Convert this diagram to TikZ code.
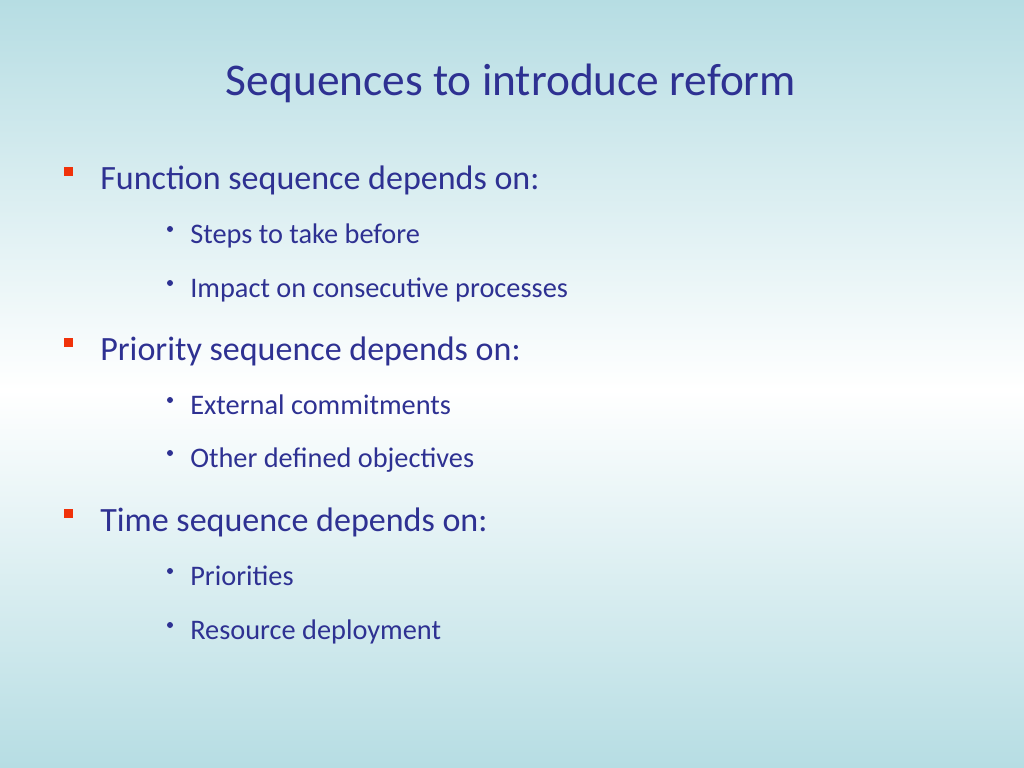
\documentclass[tikz,border=0pt]{standalone}
\usepackage{fontspec}
\setmainfont{Carlito}
\definecolor{slideblue}{RGB}{46,49,146}
\definecolor{bgteal}{RGB}{182,221,227}
\definecolor{mark}{RGB}{240,50,10}
\tikzstyle{head}=[anchor=base west,text=slideblue,font=\fontsize{24}{28}\selectfont,inner sep=0pt]
\tikzstyle{item}=[anchor=base west,text=slideblue,font=\fontsize{20}{24}\selectfont,inner sep=0pt]
\tikzstyle{square}=[fill=mark]
\tikzstyle{dot}=[fill=slideblue]
\begin{document}
\begin{tikzpicture}[x=0.0248cm,y=-0.0248cm]
                        \useasboundingbox (0,0) rectangle (1024,768);
                        \shade[top color=bgteal,bottom color=white] (0,0) rectangle (1024,390);
                        \shade[top color=white,bottom color=bgteal] (0,390) rectangle (1024,768);

                        \node[anchor=base,text=slideblue,font=\fontsize{32}{38}\selectfont,inner sep=0pt] (title) at (511,96) {Sequences to introduce reform};

                        \node[head] (function) at (100,189) {Function sequence depends on:};
                        \node[head] (priority) at (100,360) {Priority sequence depends on:};
                        \node[head] (time) at (100,531) {Time sequence depends on:};

                        \node[item] (steps) at (190,243) {Steps to take before};
                        \node[item] (impact) at (190,297) {Impact on consecutive processes};
                        \node[item] (external) at (190,414) {External commitments};
                        \node[item] (other) at (190,467) {Other defined objectives};
                        \node[item] (priorities) at (190,585) {Priorities};
                        \node[item] (resource) at (190,639) {Resource deployment};

                        \foreach \y in {172,343,514} {
                            \fill[square] (64,\y-5) rectangle (73,\y+4);
                        }
                        \foreach \y in {229,283,400,453,571,625} {
                            \fill[dot] (170,\y) circle (3);
                        }
                    \end{tikzpicture}
\end{document}
